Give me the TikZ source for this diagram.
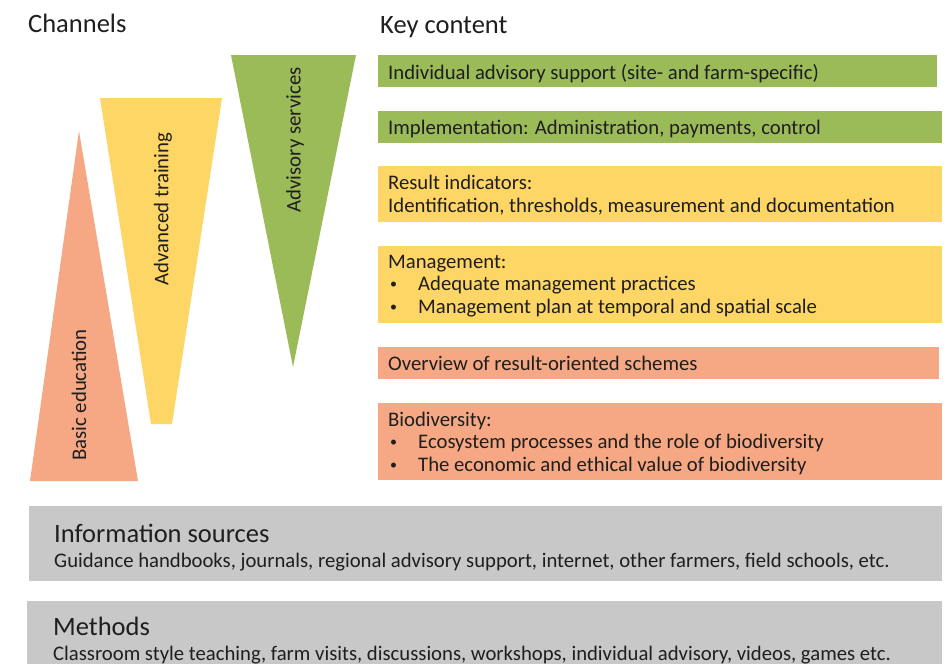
\documentclass[tikz,border=0pt]{standalone}
\usepackage{fontspec}
\setmainfont{Carlito}
\definecolor{cgreen}{HTML}{9BBB59}
\definecolor{cyellow}{HTML}{FED666}
\definecolor{csalmon}{HTML}{F5A883}
\definecolor{cgray}{HTML}{C8C8C8}
\definecolor{ctext}{HTML}{1E1E1E}
\begin{document}
\begin{tikzpicture}[x=1pt,y=-1pt,
  box/.style={draw=none, inner sep=0pt, outer sep=0pt, anchor=north west},
  txt/.style={anchor=base west, inner sep=0pt, text=ctext, font=\fontsize{20.7}{22}\selectfont},
  bul/.style={anchor=base west, inner sep=0pt, text=ctext, font=\fontsize{14}{16}\selectfont},
  title/.style={anchor=base west, inner sep=0pt, text=ctext, font=\fontsize{26.5}{28}\selectfont},
  gtitle/.style={anchor=base west, inner sep=0pt, text=ctext, font=\fontsize{26.5}{28}\selectfont},
  vlab/.style={inner sep=0pt, text=ctext, rotate=90, font=\fontsize{20.8}{22}\selectfont}]
\useasboundingbox (0,0) rectangle (947,664);
\fill[white] (0,0) rectangle (947,664);
% titles
\node[title] (channels) at (28,32) {Channels};
\node[title] (keycontent) at (380,33) {Key content};
% triangles
\fill[csalmon] (30,481) -- (79,131) -- (138,481) -- cycle;
\fill[cyellow] (100,98) -- (222,98) -- (172,424) -- (151,424) -- cycle;
\fill[cgreen] (231,55) -- (356,55) -- (293,367) -- cycle;
\node[vlab] (basic) at (79,395) {Basic education};
\node[vlab] (adv) at (163,209) {Advanced training};
\node[vlab] (advis) at (295,140) {Advisory services};
% key content boxes
\node[box, fill=cgreen, minimum width=559pt, minimum height=32pt] (k1) at (378,55) {};
\node[box, fill=cgreen, minimum width=564pt, minimum height=32pt] (k2) at (378,111) {};
\node[box, fill=cyellow, minimum width=564pt, minimum height=56pt] (k3) at (378,166) {};
\node[box, fill=cyellow, minimum width=564pt, minimum height=77pt] (k4) at (378,246) {};
\node[box, fill=csalmon, minimum width=561pt, minimum height=32pt] (k5) at (378,347) {};
\node[box, fill=csalmon, minimum width=564pt, minimum height=77pt] (k6) at (378,403) {};
\node[txt] (t1) at (388,79) {Individual advisory support (site- and farm-specific)};
\node[txt] (t2) at (388,134) {Implementation: Administration, payments, control};
\node[txt] (t3a) at (388,189) {Result indicators:};
\node[txt] (t3b) at (388,212) {Identification, thresholds, measurement and documentation};
\node[txt] (t4a) at (388,268) {Management:};
\node[bul] (b4b) at (390,288) {•};
\node[txt] (t4b) at (418,290) {Adequate management practices};
\node[bul] (b4c) at (390,311) {•};
\node[txt] (t4c) at (418,313) {Management plan at temporal and spatial scale};
\node[txt] (t5) at (388,370) {Overview of result-oriented schemes};
\node[txt] (t6a) at (388,426) {Biodiversity:};
\node[bul] (b6b) at (390,446) {•};
\node[txt] (t6b) at (418,448) {Ecosystem processes and the role of biodiversity};
\node[bul] (b6c) at (390,469) {•};
\node[txt] (t6c) at (418,471) {The economic and ethical value of biodiversity};
% gray boxes
\node[box, fill=cgray, minimum width=913pt, minimum height=75pt] (g1) at (29,506) {};
\node[box, fill=cgray, minimum width=915pt, minimum height=63pt] (g2) at (27,601) {};
\node[gtitle] (g1a) at (54,542) {Information sources};
\node[txt] (g1b) at (54,567) {Guidance handbooks, journals, regional advisory support, internet, other farmers, field schools, etc.};
\node[gtitle] (g2a) at (53,635) {Methods};
\node[txt] (g2b) at (53,660) {Classroom style teaching, farm visits, discussions, workshops, individual advisory, videos, games etc.};
\end{tikzpicture}
\end{document}
